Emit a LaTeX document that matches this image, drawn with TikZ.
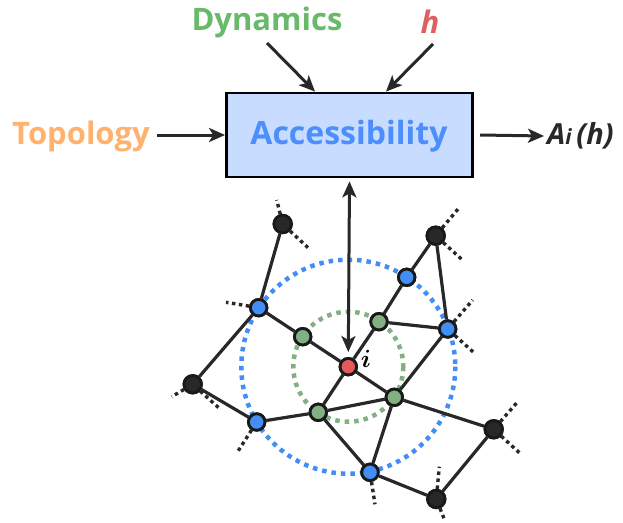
\documentclass[tikz,border=0pt]{standalone}
\usepackage{fontspec}
\usepackage{bm}
\setmainfont{Open Sans}
\usetikzlibrary{arrows.meta}
\definecolor{cblue}{RGB}{66,142,245}
\definecolor{cgreen}{RGB}{130,176,130}
\definecolor{cred}{RGB}{226,90,92}
\definecolor{cblack}{RGB}{40,40,40}
\definecolor{tgreen}{RGB}{104,186,106}
\definecolor{torange}{RGB}{255,178,110}
\definecolor{tblue}{RGB}{76,142,252}
\definecolor{tred}{RGB}{224,96,96}
\definecolor{boxfill}{RGB}{200,220,255}
\tikzset{
  tip/.tip={Stealth[length=16pt,width=14pt,inset=4pt]},
  arr/.style={line width=3pt, draw=cblack, -tip},
  nd/.style={circle, draw=black!90, line width=2.8pt, inner sep=0pt, minimum size=16.5pt},
  bk/.style={nd, fill=cblack, minimum size=17.5pt},
  bl/.style={nd, fill=cblue},
  gr/.style={nd, fill=cgreen},
  rd/.style={nd, fill=cred},
  edge/.style={line width=3.2pt, draw=cblack},
  stub/.style={line width=3.4pt, draw=cblack, dash pattern=on 3.5pt off 3.5pt},
  lbl/.style={inner sep=0pt},
}
\begin{document}
\begin{tikzpicture}[x=1pt,y=-1pt]
\useasboundingbox (0,0) rectangle (623,522);
% rings
\coordinate (c) at (348.3,366.7);
\draw[cblue, line width=4.5pt, dash pattern=on 4.5pt off 5pt] (c) circle[radius=107];
\draw[cgreen, line width=4.5pt, dash pattern=on 4.5pt off 5pt] (c) circle[radius=55];
% box and labels
\node[draw=black, line width=2.8pt, fill=boxfill, minimum width=246pt, minimum height=84pt, inner sep=0pt] (box) at (349.5,135) {};
\node[lbl, text=tblue, font=\bfseries\fontsize{32}{36}\selectfont] (acc) at (349,136) {Accessibility};
\node[lbl, text=tgreen, font=\bfseries\fontsize{31}{34}\selectfont] (dyn) at (267,22) {Dynamics};
\node[lbl, text=tred, font=\bfseries\itshape\fontsize{31}{34}\selectfont] (h) at (430,22) {h};
\node[lbl, text=torange, font=\bfseries\fontsize{31}{34}\selectfont, anchor=east] (top) at (150,136) {Topology};
\node[lbl, text=cblack, font=\bfseries\itshape\fontsize{29}{32}\selectfont, anchor=west] (out) at (547,136) {A{\fontsize{21}{24}\selectfont i}\,(h)};
% nodes
\node[bk] (B1) at (282.7,224) {};
\node[bk] (B2) at (435.7,235.7) {};
\node[bk] (B3) at (192.7,384.3) {};
\node[bk] (B4) at (493.7,429.3) {};
\node[bk] (B5) at (436.3,499) {};
\node[bl] (U1) at (258.7,307.7) {};
\node[bl] (U2) at (406.7,277.3) {};
\node[bl] (U3) at (447.7,329) {};
\node[bl] (U4) at (256.7,422) {};
\node[bl] (U5) at (370,472.3) {};
\node[gr] (G1) at (302.7,336.7) {};
\node[gr] (G2) at (379,321.7) {};
\node[gr] (G3) at (394.3,397.3) {};
\node[gr] (G4) at (318.3,412.3) {};
\node[rd] (R) at (348.3,366.7) {};
\node[inner sep=0pt, font=\fontsize{26}{28}\selectfont] (il) at (366,359) {$\bm{i}$};
% stub end points
\coordinate (s1) at (276.7,200);
\coordinate (s2) at (308,247.7);
\coordinate (s3) at (460,206.7);
\coordinate (s4) at (461.7,259.3);
\coordinate (s5) at (226,302.3);
\coordinate (s6) at (472.7,300);
\coordinate (s7) at (474,352.7);
\coordinate (s8) at (171.7,396.7);
\coordinate (s9) at (219.3,408.3);
\coordinate (s10) at (238.3,450.7);
\coordinate (s11) at (518.3,401);
\coordinate (s12) at (520,453.3);
\coordinate (s13) at (375,504.3);
\coordinate (s14) at (439.3,466.7);
\coordinate (s15) at (445,521);
% stubs
\foreach \a/\b in {B1/s1,B1/s2,B2/s3,B2/s4,U1/s5,U3/s6,U3/s7,B3/s8,B3/s9,U4/s10,B4/s11,B4/s12,U5/s13,B5/s14,B5/s15}
  \draw[stub] (\a) -- (\b);
% edges
\foreach \a/\b in {B1/U1,U1/G1,G1/R,U1/B3,B3/U4,U4/G4,G4/R,G4/G3,G4/U5,R/G2,R/G3,G2/U2,U2/B2,B2/U3,G2/U3,U3/G3,G3/U5,G3/B4,B4/B5,B5/U5}
  \draw[edge] (\a) -- (\b);
% redraw nodes on top
\foreach \n/\s in {B1/bk,B2/bk,B3/bk,B4/bk,B5/bk,U1/bl,U2/bl,U3/bl,U4/bl,U5/bl,G1/gr,G2/gr,G3/gr,G4/gr,R/rd}
  \node[\s] at (\n) {};
% arrows
\coordinate (dA) at (267,43);
\coordinate (hA) at (433,44);
\coordinate (tA) at (157,135);
\coordinate (oA) at (480,135);
\draw[arr] (dA) -- (box.north -| 315,0);
\draw[arr] (hA) -- (box.north -| 386,0);
\draw[arr] (tA) -- (box.west);
\draw[arr] (oA) -- ([xshift=-3pt]out.west);
\draw[line width=3pt, draw=cblack, tip-tip] ([yshift=-3pt]box.south) -- ([yshift=5pt]R.north);
\end{tikzpicture}
\end{document}
